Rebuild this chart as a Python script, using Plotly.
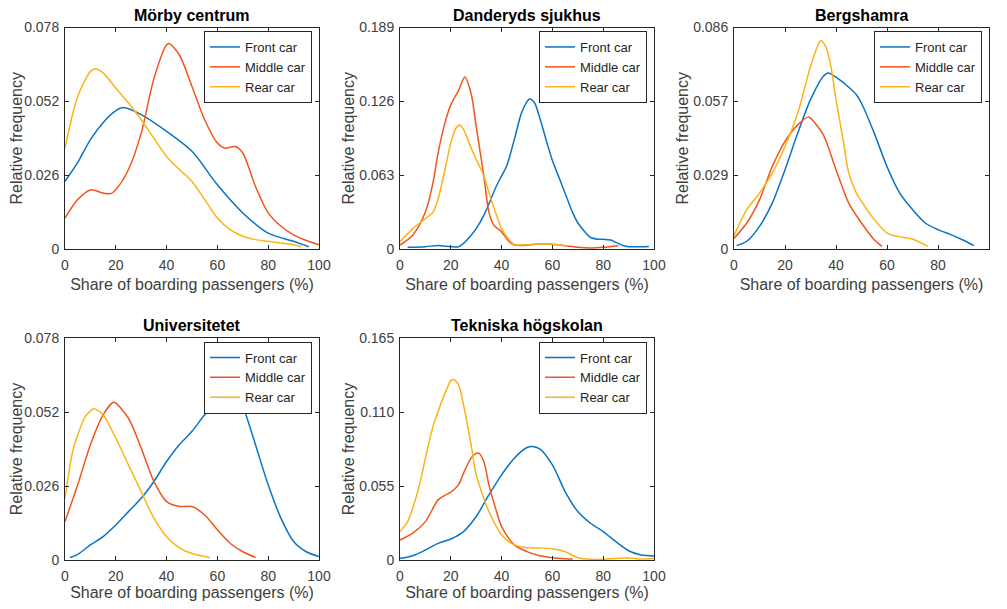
import plotly.graph_objects as go

FONT = "Liberation Sans, Arial, Helvetica, sans-serif"
stations = ["Mörby centrum", "Danderyds sjukhus", "Bergshamra", "Universitetet", "Tekniska högskolan"]
cars = ["Front car", "Middle car", "Rear car"]
colors = ["#0A74C2", "#F0561C", "#FBB315"]
ymax = [0.078, 0.189, 0.086, 0.078, 0.165]
xticks = [0, 20, 40, 60, 80, 100]

# ---- Mörby centrum ----
morby_front_x = [0, 5, 10, 15, 20, 23, 30, 40, 50, 60, 70, 80, 90, 96]
morby_front_y = [0.0238, 0.0305, 0.0385, 0.0445, 0.0487, 0.0498, 0.0473, 0.0414, 0.0344, 0.0226, 0.0127, 0.0056, 0.0027, 0.0008]
morby_middle_x = [0, 5, 10, 15, 18, 20, 25, 30, 35, 40, 41, 45, 50, 55, 60, 63, 67, 70, 75, 80, 85, 90, 95, 100]
morby_middle_y = [0.0109, 0.0174, 0.0208, 0.0197, 0.0195, 0.0209, 0.028, 0.0408, 0.060, 0.0719, 0.0724, 0.0684, 0.0572, 0.0455, 0.0373, 0.0355, 0.0361, 0.0338, 0.022, 0.0127, 0.008, 0.005, 0.003, 0.0015]
morby_rear_x = [0, 5, 10, 12, 15, 20, 25, 30, 35, 40, 45, 50, 55, 60, 65, 70, 75, 80, 85, 90, 93]
morby_rear_y = [0.0355, 0.0537, 0.0625, 0.0635, 0.062, 0.0567, 0.0514, 0.0455, 0.039, 0.0326, 0.028, 0.0238, 0.0174, 0.0109, 0.0068, 0.0045, 0.0033, 0.0027, 0.0021, 0.0015, 0.0008]

# ---- Danderyds sjukhus ----
dand_front_x = [3, 10, 15, 20, 23, 25, 28, 30, 33, 35, 38, 40, 42, 45, 48, 51, 53, 55, 58, 60, 63, 65, 68, 70, 73, 75, 78, 80, 83, 85, 88, 90, 95, 98]
dand_front_y = [0.0014, 0.002, 0.003, 0.002, 0.002, 0.0048, 0.0118, 0.0174, 0.0287, 0.0385, 0.054, 0.0624, 0.0708, 0.0933, 0.117, 0.128, 0.1246, 0.112, 0.0896, 0.0756, 0.0588, 0.0476, 0.0308, 0.0224, 0.014, 0.0098, 0.0084, 0.0084, 0.0076, 0.0056, 0.0028, 0.002, 0.002, 0.0022]
dand_middle_x = [0, 5, 10, 13, 15, 18, 20, 23, 25.5, 28, 30, 33, 35, 37, 40, 43, 45, 50, 55, 60, 65, 70, 75, 80, 86]
dand_middle_y = [0.0034, 0.0118, 0.0315, 0.0568, 0.082, 0.110, 0.123, 0.135, 0.1467, 0.1326, 0.1045, 0.0624, 0.0315, 0.0202, 0.0146, 0.0062, 0.0034, 0.0032, 0.0045, 0.004, 0.0028, 0.0014, 0.0008, 0.0014, 0.0028]
dand_rear_x = [0, 5, 10, 13, 15, 18, 20, 22, 23.5, 25, 28, 30, 33, 35, 38, 40, 43, 45, 50, 55, 60, 66]
dand_rear_y = [0.0062, 0.0174, 0.0259, 0.0315, 0.0427, 0.0708, 0.0905, 0.103, 0.1057, 0.102, 0.0863, 0.0764, 0.0624, 0.0483, 0.0287, 0.0174, 0.0076, 0.0039, 0.0036, 0.0045, 0.004, 0.0025]

# ---- Bergshamra ----
berg_front_x = [1, 5, 10, 15, 20, 25, 30, 35, 37, 40, 45, 48, 50, 55, 60, 65, 70, 75, 80, 85, 90, 94]
berg_front_y = [0.0013, 0.003, 0.0088, 0.0178, 0.0308, 0.045, 0.058, 0.067, 0.0683, 0.0667, 0.0628, 0.0599, 0.0566, 0.045, 0.032, 0.0217, 0.0153, 0.0101, 0.0075, 0.0056, 0.0034, 0.0013]
berg_middle_x = [0, 5, 10, 15, 20, 25, 29, 30, 35, 40, 45, 50, 55, 58]
berg_middle_y = [0.0041, 0.0101, 0.0191, 0.032, 0.0418, 0.0482, 0.0512, 0.0508, 0.0444, 0.0308, 0.0178, 0.0101, 0.0036, 0.001]
berg_rear_x = [0, 5, 10, 15, 20, 25, 30, 33, 34, 36, 38, 40, 43, 45, 48, 50, 55, 60, 65, 70, 76]
berg_rear_y = [0.0052, 0.0153, 0.0217, 0.0295, 0.0398, 0.0528, 0.0709, 0.0793, 0.081, 0.0786, 0.0709, 0.058, 0.0411, 0.0295, 0.0217, 0.0185, 0.0114, 0.0062, 0.0047, 0.0039, 0.001]

# ---- Universitetet ----
univ_front_x = [2, 5, 10, 15, 20, 25, 30, 35, 40, 45, 50, 55, 60, 63, 66, 68, 70, 75, 80, 85, 90, 95, 100]
univ_front_y = [0.0009, 0.002, 0.0053, 0.0082, 0.0123, 0.017, 0.0217, 0.0276, 0.0346, 0.0405, 0.0452, 0.051, 0.0557, 0.0586, 0.0606, 0.0596, 0.0545, 0.0405, 0.0264, 0.0147, 0.0065, 0.0029, 0.0012]
univ_middle_x = [0, 5, 10, 15, 19, 20, 25, 30, 35, 40, 45, 50, 55, 60, 65, 70, 75]
univ_middle_y = [0.0135, 0.0264, 0.0405, 0.051, 0.0554, 0.0551, 0.0498, 0.0393, 0.0276, 0.0205, 0.0188, 0.0188, 0.0158, 0.0106, 0.0059, 0.0029, 0.0009]
univ_rear_x = [0, 3, 5, 8, 11, 12, 15, 20, 25, 30, 35, 40, 45, 50, 57]
univ_rear_y = [0.0217, 0.0381, 0.044, 0.0504, 0.0531, 0.053, 0.051, 0.0428, 0.0334, 0.024, 0.0147, 0.0082, 0.0043, 0.0023, 0.0009]

# ---- Tekniska högskolan ----
kth_front_x = [0, 5, 10, 15, 20, 25, 30, 35, 40, 45, 50, 52, 55, 60, 65, 70, 75, 80, 85, 90, 95, 100]
kth_front_y = [0.0012, 0.0032, 0.0074, 0.0124, 0.0156, 0.0211, 0.0323, 0.0484, 0.0633, 0.0757, 0.0836, 0.0844, 0.0826, 0.0707, 0.0509, 0.036, 0.0273, 0.0211, 0.0136, 0.0069, 0.0037, 0.003]
kth_middle_x = [0, 5, 10, 15, 18, 20, 23, 25, 28, 30, 31, 33, 35, 38, 40, 45, 50, 55, 60, 65, 68]
kth_middle_y = [0.0149, 0.0199, 0.0285, 0.0447, 0.0484, 0.0504, 0.0558, 0.0645, 0.0757, 0.0792, 0.0794, 0.0732, 0.0558, 0.036, 0.0248, 0.0112, 0.0062, 0.0032, 0.0017, 0.001, 0.0008]
kth_rear_x = [0, 3, 5, 8, 10, 13, 15, 18, 20, 21, 23, 25, 28, 30, 33, 35, 40, 45, 50, 55, 60, 65, 70, 75, 80, 85, 90, 95, 100]
kth_rear_y = [0.0211, 0.0285, 0.0385, 0.0583, 0.0757, 0.0993, 0.1104, 0.1253, 0.1333, 0.1342, 0.1303, 0.1154, 0.0856, 0.0633, 0.0459, 0.036, 0.0186, 0.0112, 0.0092, 0.0089, 0.0084, 0.0062, 0.0017, 0.0005, 0.0005, 0.0012, 0.0015, 0.0007, 0.0012]

series = [
    [(morby_front_x, morby_front_y), (morby_middle_x, morby_middle_y), (morby_rear_x, morby_rear_y)],
    [(dand_front_x, dand_front_y), (dand_middle_x, dand_middle_y), (dand_rear_x, dand_rear_y)],
    [(berg_front_x, berg_front_y), (berg_middle_x, berg_middle_y), (berg_rear_x, berg_rear_y)],
    [(univ_front_x, univ_front_y), (univ_middle_x, univ_middle_y), (univ_rear_x, univ_rear_y)],
    [(kth_front_x, kth_front_y), (kth_middle_x, kth_middle_y), (kth_rear_x, kth_rear_y)],
]

# page body has an 8px default margin: size the figure so it fills the window exactly
OFF = 8
W, H = 1007 - 2 * OFF, 609 - 2 * OFF


def px(v):
    return (v - OFF) / W


def py(v):
    return 1 - (v - OFF) / H


# window pixel boxes (left, right, top, bottom)
boxes = [
    (65, 319, 27.5, 249),
    (400, 654, 27.5, 249),
    (734, 989, 27.5, 249),
    (65, 319, 338, 560),
    (400, 654, 338, 560),
]

fig = go.Figure()
layout = dict(
    width=W, height=H, margin=dict(l=0, r=0, t=0, b=0, autoexpand=False),
    paper_bgcolor="white", plot_bgcolor="white",
    font=dict(family=FONT, size=14, color="#262626"),
    annotations=[],
)

for i, (st, ym, box) in enumerate(zip(stations, ymax, boxes)):
    n = "" if i == 0 else str(i + 1)
    leg = "legend" if i == 0 else f"legend{i + 1}"
    for j, (xs, ys) in enumerate(series[i]):
        fig.add_trace(go.Scatter(
            x=xs, y=ys, mode="lines", name=cars[j],
            line=dict(color=colors[j], width=1.5, shape="spline", smoothing=0.8),
            xaxis="x" + n, yaxis="y" + n, legend=leg,
        ))
    l, r, t, b = box
    xd = [px(l), px(r)]
    yd = [py(b), py(t)]
    yt = [0, ym / 3, 2 * ym / 3, ym]
    ytt = ["0"] + [f"{v:.3f}" for v in yt[1:]]
    layout["xaxis" + n] = dict(
        domain=xd, range=[0, 100], tickvals=xticks, ticks="inside", ticklen=4,
        tickcolor="#262626", showline=True, linecolor="#262626", linewidth=1,
        mirror="ticks", showgrid=False, zeroline=False, anchor="y" + n,
        automargin=False, ticklabelstandoff=3,
        tickfont=dict(size=14, color="#404040"),
        title=dict(text="Share of boarding passengers (%)", standoff=7,
                   font=dict(size=16, color="#404040")),
    )
    layout["yaxis" + n] = dict(
        domain=yd, range=[0, ym], tickvals=yt, ticktext=ytt, ticks="inside", ticklen=4,
        tickcolor="#262626", showline=True, linecolor="#262626", linewidth=1,
        mirror="ticks", showgrid=False, zeroline=False, anchor="x" + n,
        automargin=False, ticklabelstandoff=2,
        tickfont=dict(size=14, color="#404040"),
        title=dict(text="Relative frequency", standoff=0,
                   font=dict(size=16, color="#404040")),
    )
    layout[leg] = dict(
        x=px(r - 7), y=py(t + 3.5), xanchor="right", yanchor="top",
        bgcolor="white", bordercolor="#262626", borderwidth=1,
        font=dict(size=13, color="#262626", family=FONT),
        tracegroupgap=0, itemwidth=30,
    )
    layout["annotations"].append(dict(
        text=f"<b>{st}</b>", x=px((l + r) / 2), y=py(t - 12.5),
        xref="paper", yref="paper", showarrow=False, xanchor="center", yanchor="middle",
        font=dict(size=16, color="#000000", family=FONT),
    ))

fig.update_layout(**layout)
fig.write_html("out.html")
